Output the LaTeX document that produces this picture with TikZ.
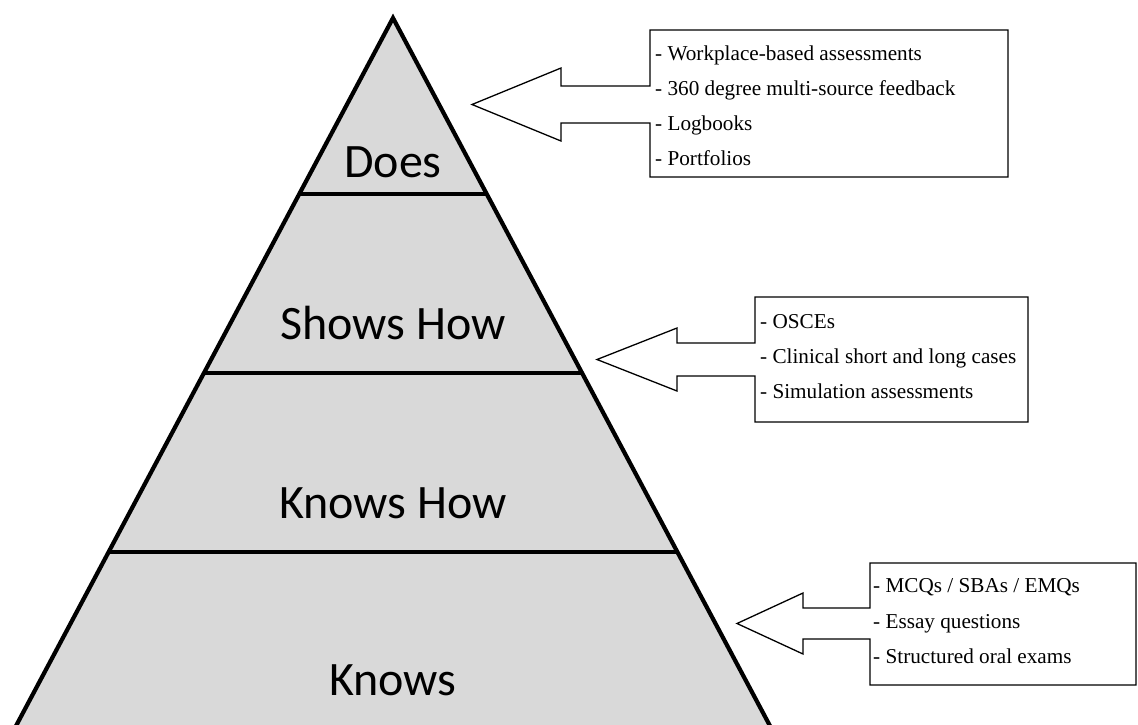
\documentclass[tikz,border=0pt]{standalone}
\usepackage{fontspec}
\setmainfont{Liberation Serif}
\newfontfamily\labelfont{Carlito}
\definecolor{pyrfill}{HTML}{D9D9D9}
\begin{document}
\begin{tikzpicture}[x=1pt,y=-1pt,
  levellabel/.style={font=\labelfont\fontsize{48}{57}\selectfont, anchor=base, inner sep=0pt},
  item/.style={font=\fontsize{21.2}{25}\selectfont, anchor=base west, inner sep=0pt},
  callout/.style={draw=black, line width=1.3pt, fill=white, line join=miter},
  pyredge/.style={line width=4.2pt, line join=miter},
  divider/.style={line width=3.8pt}]
\useasboundingbox (0,0) rectangle (1138,724);
\clip (0,0) rectangle (1138,724);
% pyramid
\coordinate (apex) at (393,18);
\coordinate (bl) at (8.5,740);
\coordinate (br) at (777.5,740);
\fill[pyrfill] (apex) -- (bl) -- (br) -- cycle;
\coordinate (d1l) at (299.3,194);
\coordinate (d1r) at (486.7,194);
\coordinate (d2l) at (203.9,373);
\coordinate (d2r) at (582.1,373);
\coordinate (d3l) at (108.6,552);
\coordinate (d3r) at (677.4,552);
\draw[divider] (d1l) -- (d1r);
\draw[divider] (d2l) -- (d2r);
\draw[divider] (d3l) -- (d3r);
\draw[pyredge] (bl) -- (apex) -- (br);
\node[levellabel] (does) at (393,177) {Does};
\node[levellabel] (shows) at (393,339) {Shows How};
\node[levellabel] (knowshow) at (393,518) {Knows How};
\node[levellabel] (knows) at (393,695) {Knows};
% top callout
\draw[callout] (472,104.5) -- (561,68) -- (561,86) -- (650,86) -- (650,30) -- (1008,30)
  -- (1008,177) -- (650,177) -- (650,123) -- (561,123) -- (561,141) -- cycle;
\node[item] (a1) at (655,60) {- Workplace-based assessments};
\node[item] (a2) at (655,95) {- 360 degree multi-source feedback};
\node[item] (a3) at (655,130) {- Logbooks};
\node[item] (a4) at (655,165) {- Portfolios};
% middle callout
\draw[callout] (597,359.5) -- (677,328) -- (677,343) -- (755,343) -- (755,297) -- (1028,297)
  -- (1028,422) -- (755,422) -- (755,376) -- (677,376) -- (677,391) -- cycle;
\node[item] (b1) at (760,328) {- OSCEs};
\node[item] (b2) at (760,363) {- Clinical short and long cases};
\node[item] (b3) at (760,398) {- Simulation assessments};
% bottom callout
\draw[callout] (737,623.5) -- (803,593) -- (803,608) -- (870,608) -- (870,563) -- (1136,563)
  -- (1136,685) -- (870,685) -- (870,639) -- (803,639) -- (803,654) -- cycle;
\node[item] (c1) at (873,592) {- MCQs / SBAs / EMQs};
\node[item] (c2) at (873,628) {- Essay questions};
\node[item] (c3) at (873,663) {- Structured oral exams};
\end{tikzpicture}
\end{document}
